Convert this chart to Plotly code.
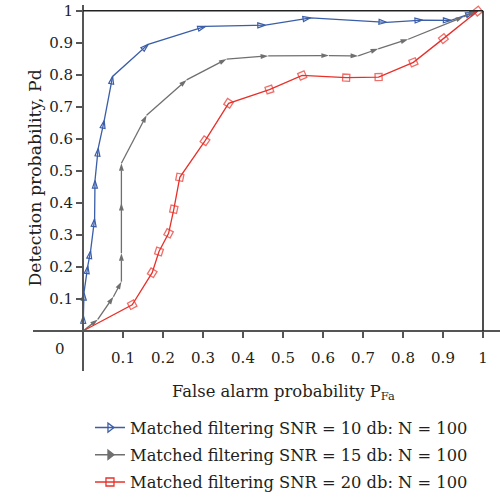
import plotly.graph_objects as go

# ---------------- data ----------------
x_snr10 = [0, 0.001, 0.0025, 0.012, 0.019, 0.029, 0.030, 0.038, 0.053, 0.074,
           0.163, 0.306, 0.456, 0.569, 0.759, 0.849, 0.920, 0.976, 0.987]
y_snr10 = [0, 0.048, 0.120, 0.203, 0.250, 0.350, 0.470, 0.570, 0.657, 0.795,
           0.895, 0.951, 0.955, 0.978, 0.964, 0.971, 0.970, 0.994, 1.0]

x_snr15 = [0, 0.037, 0.076, 0.096, 0.096, 0.096, 0.096, 0.159, 0.259, 0.359,
           0.463, 0.615, 0.688, 0.738, 0.813, 0.951, 0.987]
y_snr15 = [0, 0.036, 0.107, 0.154, 0.243, 0.400, 0.524, 0.674, 0.784, 0.849,
           0.859, 0.860, 0.859, 0.881, 0.911, 0.981, 1.0]

x_snr20 = [0, 0.123, 0.173, 0.190, 0.214, 0.227, 0.242, 0.305, 0.364, 0.466,
           0.548, 0.658, 0.739, 0.826, 0.901, 0.987]
y_snr20 = [0, 0.082, 0.182, 0.248, 0.305, 0.380, 0.480, 0.594, 0.711, 0.754,
           0.798, 0.791, 0.793, 0.839, 0.913, 0.999]

names = ["Matched filtering SNR = 10 db: N = 100",
         "Matched filtering SNR = 15 db: N = 100",
         "Matched filtering SNR = 20 db: N = 100"]

tick_vals = [0.1, 0.2, 0.3, 0.4, 0.5, 0.6, 0.7, 0.8, 0.9, 1.0]
tick_text = ["0.1", "0.2", "0.3", "0.4", "0.5", "0.6", "0.7", "0.8", "0.9", "1"]

# ---------------- style ----------------
BLUE = "#3a5ea8"
GRAY = "#6f6f6f"
RED = "#e8302a"
FONT = "DejaVu Serif"
TXT = "#231f20"
AX = "#555555"

xr = [-0.125, 1.0425]
yr = [-0.125, 1.018]
pos_x_axis = (0 - yr[0]) / (yr[1] - yr[0])
pos_y_axis = (0 - xr[0]) / (xr[1] - xr[0])

fig = go.Figure()

fig.add_trace(go.Scatter(
    x=x_snr10, y=y_snr10, mode="lines+markers", showlegend=False,
    line=dict(color=BLUE, width=1.3),
    marker=dict(symbol="arrow-open", size=8, angleref="previous",
                color=BLUE, line=dict(color=BLUE, width=1.2))))

fig.add_trace(go.Scatter(
    x=x_snr15, y=y_snr15, mode="lines+markers", showlegend=False,
    line=dict(color=GRAY, width=1.3),
    marker=dict(symbol="arrow", size=8, angleref="previous", color=GRAY)))

red_sizes = [0] + [7] * (len(x_snr20) - 1)
fig.add_trace(go.Scatter(
    x=x_snr20, y=y_snr20, mode="lines+markers", showlegend=False,
    line=dict(color=RED, width=1.3),
    marker=dict(symbol="square-open", size=red_sizes, angleref="previous",
                color=RED, line=dict(color=RED, width=1.3))))

# legend entries
for i, (nm, col, sym) in enumerate(zip(names, [BLUE, GRAY, RED],
                        ["triangle-right-open", "triangle-right", "square-open"])):
    fig.add_trace(go.Scatter(
        x=[None], y=[None], mode="lines+markers", name=nm, legendgroup=f"g{i}",
        line=dict(color=col, width=1.5),
        marker=dict(symbol=sym, size=8, color=col, line=dict(color=col, width=1.3))))

# frame lines at y=1 and x=1
fig.add_shape(type="line", x0=0, x1=1, y0=1, y1=1, xref="x", yref="y",
              line=dict(color="#222222", width=1.6))
fig.add_shape(type="line", x0=1, x1=1, y0=0, y1=1, xref="x", yref="y",
              line=dict(color="#222222", width=1.6))

fig.add_annotation(x=0, y=0, xref="x", yref="y", text="0", showarrow=False,
                   xshift=-23, yshift=-18, font=dict(family=FONT, size=15, color=TXT))
fig.add_annotation(x=0.5, y=0, xref="x", yref="paper", yanchor="middle",
                   text="False alarm probability P<sub>Fa</sub>", showarrow=False,
                   yshift=-21, font=dict(family=FONT, size=16.4, color=TXT))
fig.add_annotation(x=0, y=0.476, xref="paper", yref="y", textangle=-90,
                   text="Detection probability, Pd", showarrow=False,
                   xshift=-10, font=dict(family=FONT, size=17.3, color=TXT))

axis_common = dict(showline=True, linecolor=AX, linewidth=2, ticks="outside",
                   ticklen=6, tickwidth=1.5, tickcolor=AX, showgrid=False,
                   zeroline=False, tickvals=tick_vals, ticktext=tick_text,
                   tickfont=dict(family=FONT, size=15, color=TXT), anchor="free")

fig.update_layout(
    width=500, height=499,
    margin=dict(l=33, r=0, t=5, b=128, autoexpand=False),
    paper_bgcolor="white", plot_bgcolor="white",
    xaxis=dict(range=xr, position=pos_x_axis, ticklabelstandoff=7, **axis_common),
    yaxis=dict(range=yr, position=pos_y_axis, **axis_common),
    legend=dict(x=0.122, y=-0.108, xanchor="left", yanchor="top",
                font=dict(family=FONT, size=16.3, color=TXT),
                bgcolor="rgba(0,0,0,0)", itemwidth=30, tracegroupgap=3,
                traceorder="grouped"),
    font=dict(family=FONT, color=TXT),
)

fig.write_html("out.html", config={"displayModeBar": False},
               post_script="document.body.style.margin='0';")
